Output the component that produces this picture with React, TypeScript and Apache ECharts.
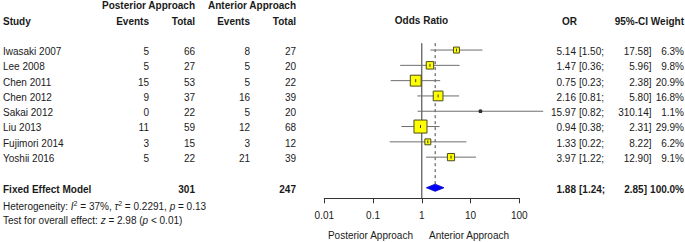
import React, { useEffect, useRef } from "react";
import * as echarts from "echarts";

const studies = ["Iwasaki 2007", "Lee 2008", "Chen 2011", "Chen 2012", "Sakai 2012", "Liu 2013", "Fujimori 2014", "Yoshii 2016"];
const postEvents = [5, 5, 15, 9, 0, 11, 3, 5];
const postTotal = [66, 27, 53, 37, 22, 59, 15, 22];
const antEvents = [8, 5, 5, 16, 5, 12, 3, 21];
const antTotal = [27, 20, 22, 39, 20, 68, 12, 39];
const oddsRatio = [5.14, 1.47, 0.75, 2.16, 15.97, 0.94, 1.33, 3.97];
const ciLow = [1.5, 0.36, 0.23, 0.81, 0.82, 0.38, 0.22, 1.22];
const ciHigh = [17.58, 5.96, 2.38, 5.8, 310.14, 2.31, 8.22, 12.9];
const weights = [6.3, 9.8, 20.9, 16.8, 1.1, 29.9, 6.2, 9.1];

const pooledLabel = "Fixed Effect Model";
const pooledPostTotal = 301;
const pooledAntTotal = 247;
const pooledOR = 1.88;
const pooledLow = 1.24;
const pooledHigh = 2.85;
const pooledWeight = 100.0;

const tickLabels = ["0.01", "0.1", "1", "10", "100"];
const heterogeneity = { i2: "37%", tau2: "0.2291", p: "0.13" };
const overall = { z: "2.98", p: "< 0.01" };

const FONT = '"Liberation Sans", Arial, Helvetica, sans-serif';
const TXT = "#1a1a1a";
const GRID_TOP = 42.4;
const ROW_H = 15.3;
const rowY = (i: number) => GRID_TOP + (i + 0.5) * ROW_H;
const POOLED_ROW = 9;

function txt(text: string, x: number, y: number, align: string, bold = false, size = 10): any {
  return {
    type: "text",
    x,
    y,
    silent: true,
    style: {
      text,
      fill: TXT,
      fontSize: size,
      fontFamily: FONT,
      fontWeight: bold ? "bold" : "normal",
      align,
      verticalAlign: "middle",
    },
  };
}

function fmt2(v: number) {
  return v.toFixed(2);
}

export default function App() {
  const ref = useRef<HTMLDivElement>(null);

  useEffect(() => {
    if (!ref.current) return;
    const chart = echarts.init(ref.current, undefined, { renderer: "svg" });

    const graphics: any[] = [];
    graphics.push(txt("Posterior Approach", 195, 5.5, "right", true));
    graphics.push(txt("Anterior Approach", 296, 5.5, "right", true));
    graphics.push(txt("Study", 3, 21, "left", true));
    graphics.push(txt("Events", 149, 21, "right", true));
    graphics.push(txt("Total", 195, 21, "right", true));
    graphics.push(txt("Events", 250, 21, "right", true));
    graphics.push(txt("Total", 296, 21, "right", true));
    graphics.push(txt("Odds Ratio", 421.5, 20.5, "center", true));
    graphics.push(txt("OR", 577, 21, "right", true));
    graphics.push(txt("95%-CI", 648, 21, "right", true));
    graphics.push(txt("Weight", 684, 21, "right", true));

    studies.forEach((s, i) => {
      const y = rowY(i) + 1.4;
      graphics.push(txt(s, 3, y, "left"));
      graphics.push(txt(String(postEvents[i]), 149, y, "right"));
      graphics.push(txt(String(postTotal[i]), 195, y, "right"));
      graphics.push(txt(String(antEvents[i]), 250, y, "right"));
      graphics.push(txt(String(antTotal[i]), 296, y, "right"));
      graphics.push(txt(fmt2(oddsRatio[i]), 576, y, "right"));
      graphics.push(txt("[" + fmt2(ciLow[i]) + ";", 579, y, "left"));
      graphics.push(txt(fmt2(ciHigh[i]) + "]", 651.5, y, "right"));
      graphics.push(txt(weights[i].toFixed(1) + "%", 684, y, "right"));
    });

    const py = rowY(POOLED_ROW) + 1.6;
    graphics.push(txt(pooledLabel, 3, py, "left", true));
    graphics.push(txt(String(pooledPostTotal), 195, py, "right", true));
    graphics.push(txt(String(pooledAntTotal), 296, py, "right", true));
    graphics.push(txt(fmt2(pooledOR), 576, py, "right", true));
    graphics.push(txt("[" + fmt2(pooledLow) + ";", 579, py, "left", true));
    graphics.push(txt(fmt2(pooledHigh) + "]", 647, py, "right", true));
    graphics.push(txt(pooledWeight.toFixed(1) + "%", 684, py, "right", true));

    const rich = {
      i: { fontStyle: "italic", fontSize: 10, fontFamily: FONT, fill: TXT, color: TXT },
      s: { fontSize: 7, fontFamily: FONT, verticalAlign: "top", lineHeight: 12, fill: TXT, color: TXT },
      n: { fontSize: 10, fontFamily: FONT, fill: TXT, color: TXT },
    };
    graphics.push({
      type: "text",
      x: 3,
      y: 206,
      silent: true,
      style: {
        text:
          "{n|Heterogeneity: }{i|I}{s|2}{n| = " +
          heterogeneity.i2 +
          ", }{i|τ}{s|2}{n| = " +
          heterogeneity.tau2 +
          ", }{i|p}{n| = " +
          heterogeneity.p +
          "}",
        rich,
        fill: TXT,
        fontSize: 10,
        fontFamily: FONT,
        align: "left",
        verticalAlign: "middle",
      },
    });
    graphics.push({
      type: "text",
      x: 3,
      y: 220,
      silent: true,
      style: {
        text: "{n|Test for overall effect: }{i|z}{n| = " + overall.z + " (}{i|p}{n| " + overall.p + ")}",
        rich,
        fill: TXT,
        fontSize: 10,
        fontFamily: FONT,
        align: "left",
        verticalAlign: "middle",
      },
    });

    graphics.push(txt("Posterior Approach", 413, 235, "right", false));
    graphics.push(txt("Anterior Approach", 429, 235, "left", false));

    const studyData = studies.map((_, i) => [oddsRatio[i], i, ciLow[i], ciHigh[i], weights[i]]);

    const option: any = {
      animation: false,
      grid: { left: 324.3, right: 685 - 519.3, top: GRID_TOP, bottom: 242 - 198.3, containLabel: false },
      xAxis: {
        type: "log",
        logBase: 10,
        min: 0.01,
        max: 100,
        position: "bottom",
        splitLine: { show: false },
        axisLine: { show: true, onZero: false, lineStyle: { color: "#333", width: 1 } },
        axisTick: { show: true, length: 5, lineStyle: { color: "#333", width: 1 } },
        minorTick: { show: false },
        axisLabel: {
          show: true,
          margin: 12,
          color: TXT,
          fontSize: 10,
          fontFamily: FONT,
          formatter: (v: number) => tickLabels[Math.round(Math.log10(v)) + 2] ?? "",
        },
      },
      yAxis: {
        type: "value",
        min: -0.5,
        max: 9.69,
        inverse: true,
        show: false,
      },
      series: [
        {
          type: "line",
          data: [
            [1, -0.45],
            [1, 9.69],
          ],
          symbol: "none",
          silent: true,
          lineStyle: { color: "#333", width: 1 },
          z: 1,
        },
        {
          type: "line",
          data: [
            [pooledOR, -0.45],
            [pooledOR, 8.75],
          ],
          symbol: "none",
          silent: true,
          lineStyle: { color: "#444", width: 1, type: [3, 3] },
          z: 1,
        },
        {
          type: "custom",
          clip: false,
          silent: true,
          z: 3,
          data: studyData,
          encode: { x: 0, y: 1 },
          renderItem: (params: any, api: any) => {
            const p = api.coord([api.value(0), api.value(1)]);
            const l = api.coord([api.value(2), api.value(1)]);
            const h = api.coord([api.value(3), api.value(1)]);
            const s = 2.38 * Math.sqrt(api.value(4));
            const tiny = s < 4;
            return {
              type: "group",
              children: [
                {
                  type: "line",
                  shape: { x1: l[0], y1: p[1], x2: h[0], y2: p[1] },
                  style: { stroke: "#6e6e6e", lineWidth: 1 },
                },
                {
                  type: "rect",
                  shape: { x: p[0] - s / 2, y: p[1] - s / 2, width: s, height: s },
                  style: { fill: tiny ? "#222" : "#ffff00", stroke: tiny ? "#222" : "#4a4a22", lineWidth: 1 },
                },
                {
                  type: "line",
                  shape: { x1: p[0], y1: p[1] - 1.5, x2: p[0], y2: p[1] + 1.5 },
                  style: { stroke: "#3a3a1a", lineWidth: 1 },
                },
              ],
            };
          },
        },
        {
          type: "custom",
          clip: false,
          silent: true,
          z: 3,
          data: [[pooledOR, POOLED_ROW, pooledLow, pooledHigh]],
          encode: { x: 0, y: 1 },
          renderItem: (params: any, api: any) => {
            const p = api.coord([api.value(0), api.value(1)]);
            const l = api.coord([api.value(2), api.value(1)]);
            const h = api.coord([api.value(3), api.value(1)]);
            const hh = 3.6;
            return {
              type: "polygon",
              shape: {
                points: [
                  [l[0], p[1]],
                  [p[0], p[1] - hh],
                  [h[0], p[1]],
                  [p[0], p[1] + hh],
                ],
              },
              style: { fill: "#0000ff", stroke: "#0000c0", lineWidth: 0.8 },
            };
          },
        },
      ],
      graphic: graphics,
    };

    chart.setOption(option);
    return () => chart.dispose();
  }, []);

  return <div ref={ref} style={{ position: "fixed", left: 0, top: 0, width: 685, height: 242, background: "#fff" }} />;
}
